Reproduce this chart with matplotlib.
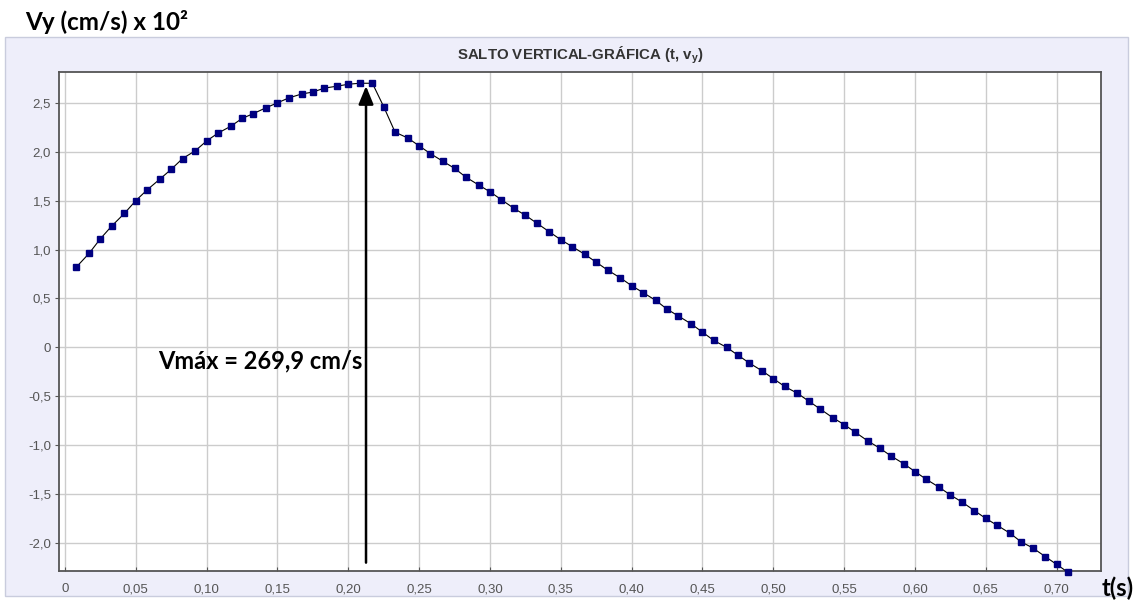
import matplotlib
matplotlib.use("Agg")
import matplotlib.pyplot as plt
from matplotlib.patches import Rectangle

# frame times (s), camera at 120 fps
t = [0.008, 0.017, 0.025, 0.033, 0.042, 0.050, 0.058, 0.067, 0.075, 0.083,
     0.092, 0.100, 0.108, 0.117, 0.125, 0.133, 0.142, 0.150, 0.158, 0.167,
     0.175, 0.183, 0.192, 0.200, 0.208, 0.217, 0.225, 0.233, 0.242, 0.250,
     0.258, 0.267, 0.275, 0.283, 0.292, 0.300, 0.308, 0.317, 0.325, 0.333,
     0.342, 0.350, 0.358, 0.367, 0.375, 0.383, 0.392, 0.400, 0.408, 0.417,
     0.425, 0.433, 0.442, 0.450, 0.458, 0.467, 0.475, 0.483, 0.492, 0.500,
     0.508, 0.517, 0.525, 0.533, 0.542, 0.550, 0.558, 0.567, 0.575, 0.583,
     0.592, 0.600, 0.608, 0.617, 0.625, 0.633, 0.642, 0.650, 0.658, 0.667,
     0.675, 0.683, 0.692, 0.700, 0.708]
# vertical velocity (cm/s x 10^2)
vy = [0.82, 0.96, 1.11, 1.24, 1.37, 1.50, 1.61, 1.72, 1.82, 1.93,
      2.01, 2.11, 2.19, 2.26, 2.34, 2.39, 2.45, 2.50, 2.55, 2.59,
      2.61, 2.65, 2.67, 2.69, 2.70, 2.70, 2.46, 2.20, 2.14, 2.06,
      1.98, 1.90, 1.83, 1.74, 1.66, 1.59, 1.51, 1.42, 1.35, 1.27,
      1.18, 1.10, 1.03, 0.95, 0.87, 0.79, 0.71, 0.63, 0.56, 0.48,
      0.39, 0.32, 0.24, 0.155, 0.07, 0.00, -0.08, -0.16, -0.24, -0.32,
      -0.40, -0.47, -0.55, -0.63, -0.72, -0.79, -0.87, -0.96, -1.03, -1.11,
      -1.19, -1.27, -1.35, -1.43, -1.51, -1.58, -1.67, -1.75, -1.82, -1.90,
      -1.99, -2.05, -2.14, -2.22, -2.30]

xticks = [0, 0.05, 0.10, 0.15, 0.20, 0.25, 0.30, 0.35, 0.40, 0.45, 0.50, 0.55, 0.60, 0.65, 0.70]
xlabels = ['0', '0,05', '0,10', '0,15', '0,20', '0,25', '0,30', '0,35', '0,40', '0,45',
           '0,50', '0,55', '0,60', '0,65', '0,70']
yticks = [-2.0, -1.5, -1.0, -0.5, 0, 0.5, 1.0, 1.5, 2.0, 2.5]
ylabels = ['-2,0', '-1,5', '-1,0', '-0,5', '0', '0,5', '1,0', '1,5', '2,0', '2,5']

t_max = 0.2125
v_max = 2.70
label_max = 'Vmáx = 269,9 cm/s'

plt.rcParams['mathtext.fontset'] = 'custom'
plt.rcParams['mathtext.rm'] = 'Liberation Sans:bold'

W, H = 1135, 604
fig = plt.figure(figsize=(W / 100, H / 100), dpi=100)
fig.patch.set_facecolor('white')

# lavender panel behind the chart
fig.patches.append(Rectangle((5 / W, 1 - 596 / H), 1123 / W, 559 / H, transform=fig.transFigure,
                             facecolor='#EEEEFA', edgecolor='#C9CCDD', lw=1, zorder=0))

ax = fig.add_axes([59.3 / W, 1 - 570.7 / H, (1101 - 59.3) / W, (570.7 - 72.3) / H])
ax.set_zorder(2)
ax.set_facecolor('white')
ax.set_xlim(-0.0040, 0.7313)
ax.set_ylim(-2.284, 2.812)
ax.grid(color='#CCCCCC', lw=1)
ax.set_axisbelow(True)
for side in ['left', 'top', 'right', 'bottom']:
    ax.spines[side].set_color('#555555')
    ax.spines[side].set_linewidth(1.3)

ax.set_xticks(xticks)
ax.set_xticklabels(xlabels)
ax.set_yticks(yticks)
ax.set_yticklabels(ylabels)
ax.tick_params(axis='x', direction='in', length=3, pad=9, colors='#555555',
               labelsize=9.5, labelcolor='#555555')
ax.tick_params(axis='y', direction='out', length=3, pad=3, colors='#555555',
               labelsize=9.5, labelcolor='#555555')
for lab in ax.get_xticklabels() + ax.get_yticklabels():
    lab.set_family('Liberation Sans')

ax.plot(t, vy, color='black', lw=0.8, marker='s', markersize=4.4,
        markerfacecolor='#000080', markeredgecolor='#000080', clip_on=False, zorder=3)

ax.annotate('', xy=(t_max, v_max), xytext=(t_max, -2.23),
            arrowprops=dict(arrowstyle='-|>,head_length=1.1,head_width=0.45', color='black', lw=1.8),
            zorder=4)
ax.text(0.1377, -0.14, label_max, ha='center', va='center', fontsize=17,
        fontweight='bold', family='Lato', color='black')

fig.text(580 / W, 1 - 55 / H, 'SALTO VERTICAL-GRÁFICA (t, v$_\\mathregular{y}$)', ha='center',
         va='center', fontsize=10.8, fontweight='bold', family='Liberation Sans', color='#333333')
fig.text(25 / W, 1 - 30 / H, 'Vy (cm/s) x 10²', ha='left', va='baseline', fontsize=17.5,
         fontweight='bold', family='Lato', color='black')
fig.text(1134 / W, 1 - 588 / H, 't(s)', ha='right', va='center', fontsize=17,
         fontweight='bold', family='Lato', color='black')

fig.savefig('out.png', dpi=100)
